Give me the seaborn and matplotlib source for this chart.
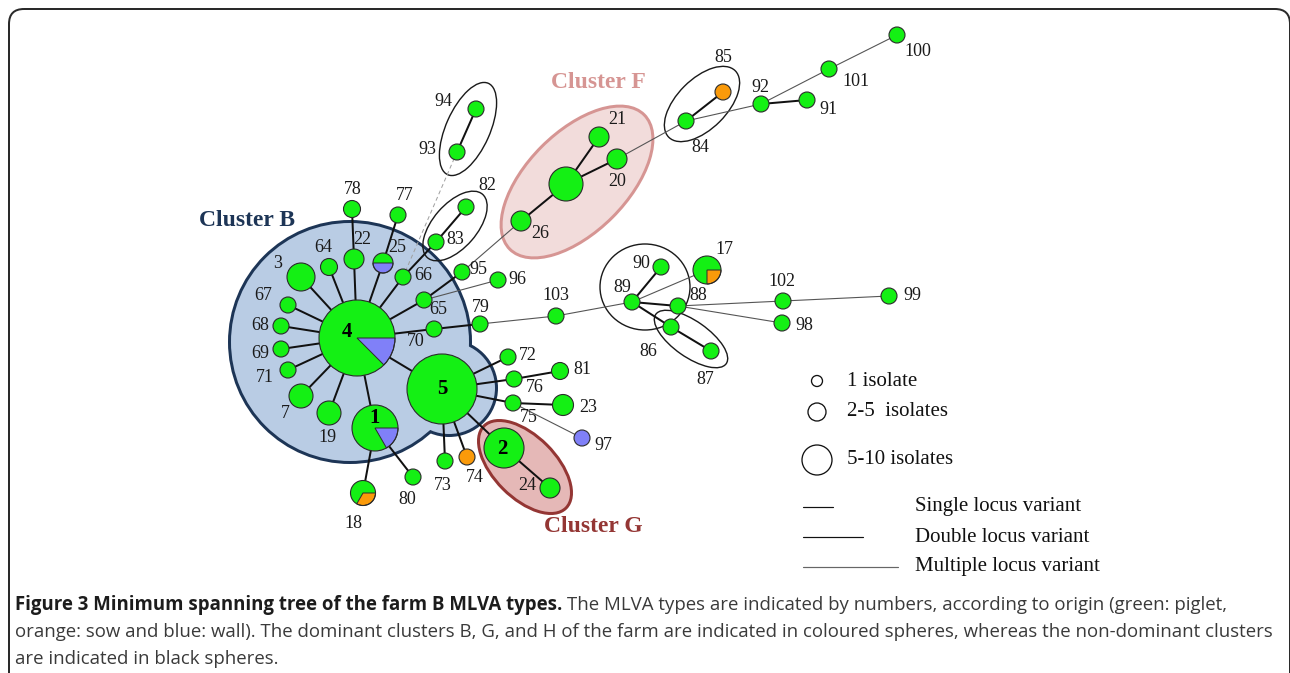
import numpy as np
import pandas as pd
import matplotlib
matplotlib.use("Agg")
import matplotlib.pyplot as plt
from matplotlib.patches import Circle, Wedge, Ellipse, FancyBboxPatch
import seaborn as sns

# ---------------------------------------------------------------------------
# MLVA types (nodes): layout position, node radius, origin shares, label spot
# ---------------------------------------------------------------------------
node_id = ["4", "5", "1", "2", "3", "64", "22", "25", "78", "77", "66", "83",
           "82", "95", "96", "65", "70", "79", "67", "68", "69", "71", "7",
           "19", "72", "76", "81", "75", "23", "97", "24", "73", "74", "80",
           "18", "hubF", "21", "20", "26", "93", "94", "84", "85", "92", "91",
           "101", "100", "17", "90", "89", "88", "86", "87", "102", "99",
           "98", "103"]
node_x = [357, 442, 375, 504, 301, 329, 354, 383, 352, 398, 403, 436,
          466, 462, 498, 424, 434, 480, 288, 281, 281, 288, 301,
          329, 508, 514, 560, 513, 563, 582, 550, 445, 467, 413,
          363, 566, 599, 617, 521, 457, 476, 686, 723, 761, 807,
          829, 897, 707, 661, 632, 678, 671, 711, 783, 889,
          782, 556]
node_y = [338, 389, 428, 448, 277, 267, 259, 263, 209, 215, 277, 242,
          207, 272, 280, 300, 329, 324, 305, 326, 349, 370, 396,
          413, 357, 379, 371, 403, 405, 438, 488, 461, 457, 477,
          493, 184, 137, 159, 221, 152, 109, 121, 92, 104, 100,
          69, 35, 270, 267, 302, 306, 327, 351, 301, 296,
          323, 316]
node_r = [38, 35, 23, 20, 14, 8.5, 10, 10, 8.5, 8, 8, 8,
          8, 8, 8, 8, 8, 8, 8, 8, 8, 8, 12,
          12, 8, 8, 8.5, 8, 10.5, 8, 10, 8, 8, 8,
          12.5, 17, 10, 10, 10, 8, 8, 8, 8, 8, 8,
          8, 8, 14, 8, 8, 8, 8, 8, 8, 8,
          8, 8]
# share of isolates from the wall (blue) and from sows (orange); rest piglets
share_wall = [0.125, 0, 1 / 6, 0, 0, 0, 0, 0.5, 0, 0, 0, 0,
              0, 0, 0, 0, 0, 0, 0, 0, 0, 0, 0,
              0, 0, 0, 0, 0, 0, 1, 0, 0, 0, 0,
              0, 0, 0, 0, 0, 0, 0, 0, 0, 0, 0,
              0, 0, 0, 0, 0, 0, 0, 0, 0, 0,
              0, 0]
share_sow = [0, 0, 0, 0, 0, 0, 0, 0, 0, 0, 0, 0,
             0, 0, 0, 0, 0, 0, 0, 0, 0, 0, 0,
             0, 0, 0, 0, 0, 0, 0, 0, 0, 1, 0,
             1 / 3, 0, 0, 0, 0, 0, 0, 0, 1, 0, 0,
             0, 0, 0.25, 0, 0, 0, 0, 0, 0, 0,
             0, 0]
label_x = [347, 442, 375, 502, 278, 323, 362, 397, 353, 405, 423, 455,
           487, 478, 517, 438, 416, 481, 263, 260, 260, 265, 285,
           327, 528, 535, 582, 529, 588, 603, 527, 443, 475, 407,
           353, None, 617, 617, 540, 427, 443, 700, 723, 760, 828,
           856, 918, 724, 641, 622, 698, 648, 705, 782, 912,
           804, 556]
label_y = [332, 389, 418, 449, 264, 248, 240, 247, 189, 196, 275, 240,
           186, 270, 279, 309, 342, 307, 296, 326, 353, 378, 413,
           437, 355, 387, 370, 418, 407, 445, 486, 485, 477, 500,
           523, None, 120, 181, 234, 150, 102, 148, 58, 87, 109,
           82, 51, 249, 263, 287, 295, 352, 380, 281, 296,
           326, 296]
bold_labels = ["4", "5", "1", "2"]

# Links of the spanning tree: single / double locus ("s"), multiple ("m"),
# uncertain link ("dash")
edge_a = ["4", "4", "4", "4", "4", "4", "4", "4", "4", "4", "4", "4", "4",
          "4", "4", "22", "25", "66", "83", "65", "70", "1", "1", "5", "5",
          "5", "5", "5", "5", "76", "75", "2", "93", "hubF", "hubF", "hubF",
          "84", "92", "89", "89", "89", "86",
          "65", "79", "103", "75", "95", "20", "84", "92", "101", "89",
          "88", "102", "88", "93"]
edge_b = ["3", "64", "22", "25", "66", "65", "70", "67", "68", "69", "71",
          "7", "19", "1", "5", "78", "77", "83", "82", "95", "79", "18", "80",
          "72", "76", "75", "73", "74", "2", "81", "23", "24", "94", "26",
          "21", "20", "85", "91", "90", "88", "86", "87",
          "96", "103", "89", "97", "26", "84", "92", "101", "100", "17",
          "102", "99", "98", "66"]
edge_kind = ["s"] * 42 + ["m"] * 13 + ["dash"]

# Legend entries
size_labels = ["1 isolate", "2-5  isolates", "5-10 isolates"]
size_radii = [5.5, 9, 15]
link_labels = ["Single locus variant", "Double locus variant",
               "Multiple locus variant"]

caption_bold = "Figure 3 Minimum spanning tree of the farm B MLVA types."
caption_rest = [
    "The MLVA types are indicated by numbers, according to origin (green: piglet,",
    "orange: sow and blue: wall). The dominant clusters B, G, and H of the farm "
    "are indicated in coloured spheres, whereas the non-dominant clusters",
    "are indicated in black spheres.",
]

GREEN = "#14f014"
BLUE = "#8080f8"
ORANGE = "#fa9a0a"
SERIF = "Liberation Serif"

sns.set_theme(style="white")
plt.rcParams["font.family"] = ["DejaVu Sans"]

W, H = 1290, 673
fig = plt.figure(figsize=(W / 100, H / 100), dpi=100)
ax = fig.add_axes([0, 0, 1, 1])
ax.set_xlim(0, W)
ax.set_ylim(H, 0)
ax.axis("off")

PT = 72 / 100  # points per pixel

# outer rounded frame
ax.add_patch(FancyBboxPatch((9, 9), 1281, 720,
                            boxstyle="round,pad=0,rounding_size=15",
                            fc="none", ec="#2a2a2a", lw=2.0 * PT, zorder=0))

# ---- cluster areas --------------------------------------------------------
# Cluster B: union of the big circle round type 4 and the lobe round type 5
b_parts = [((350, 342), 119), ((449, 388), 46)]
for c, r in b_parts:
    ax.add_patch(Circle(c, r, fc="none", ec="#1d3556", lw=6 * PT, zorder=1))
for c, r in b_parts:
    ax.add_patch(Circle(c, r, fc="#b9cce4", ec="none", zorder=1.1))

ax.add_patch(Ellipse((577, 182), 190, 100, angle=-45, fc="#f2dcdb",
                     ec="#d69593", lw=3 * PT, zorder=1))
ax.add_patch(Ellipse((525, 467), 116, 62, angle=45, fc="#e5b8b7",
                     ec="#943634", lw=3 * PT, zorder=1))

# non-dominant clusters (black outlines)
for (cx, cy), w, h, ang in [((468, 129), 100, 44, -66),
                            ((455, 226), 84, 44, -49),
                            ((702, 104), 94, 50, -45),
                            ((645, 287), 90, 86, 0),
                            ((691, 339), 86, 36, 35)]:
    ax.add_patch(Ellipse((cx, cy), w, h, angle=ang, fc="none",
                         ec="#1a1a1a", lw=1.4 * PT, zorder=1.5))

ax.text(247, 221, "Cluster B", family=SERIF, weight="bold", fontsize=17,
        color="#1d3556", ha="center", va="center", zorder=5)
ax.text(598, 83, "Cluster F", family=SERIF, weight="bold", fontsize=17,
        color="#d69593", ha="center", va="center", zorder=5)
ax.text(593, 527, "Cluster G", family=SERIF, weight="bold", fontsize=17,
        color="#943634", ha="center", va="center", zorder=5)

# ---- links ----------------------------------------------------------------
nodes = pd.DataFrame({"id": node_id, "x": node_x, "y": node_y, "r": node_r,
                      "wall": share_wall, "sow": share_sow,
                      "lx": label_x, "ly": label_y}).set_index("id")
link_style = {"s": dict(color="#111111", lw=2.0 * PT, ls="-"),
              "m": dict(color="#555555", lw=1.1 * PT, ls="-"),
              "dash": dict(color="#a0a0a0", lw=1.0 * PT, ls=(0, (4, 3)))}
for a, b, k in zip(edge_a, edge_b, edge_kind):
    ax.plot([nodes.at[a, "x"], nodes.at[b, "x"]],
            [nodes.at[a, "y"], nodes.at[b, "y"]], zorder=2, **link_style[k])

# ---- nodes ----------------------------------------------------------------
def origin(row):
    if row.wall >= 1:
        return "wall"
    if row.sow >= 1:
        return "sow"
    return "piglet"

is_pie = ((nodes.wall > 0) & (nodes.wall < 1)) | ((nodes.sow > 0) & (nodes.sow < 1))
solid = nodes[~is_pie].copy()
solid["origin"] = solid.apply(origin, axis=1)
solid["area"] = (2 * solid["r"] * PT) ** 2
amin, amax = solid["area"].min(), solid["area"].max()
sns.scatterplot(data=solid, x="x", y="y", hue="origin", size="area",
                sizes=(amin, amax), size_norm=(amin, amax),
                palette={"piglet": GREEN, "wall": BLUE, "sow": ORANGE},
                edgecolor="#2b2b2b", linewidth=0.8, legend=False, ax=ax,
                zorder=3)

for nid, row in nodes[is_pie].iterrows():
    minor = row.wall if row.wall > 0 else row.sow
    mcol = BLUE if row.wall > 0 else ORANGE
    sweep = minor * 360
    ax.add_patch(Wedge((row.x, row.y), row.r, sweep, 360, fc=GREEN,
                       ec="none", zorder=3))
    ax.add_patch(Wedge((row.x, row.y), row.r, 0, sweep, fc=mcol,
                       ec="#2b2b2b", lw=0.7, zorder=3.1))
    ax.add_patch(Circle((row.x, row.y), row.r, fc="none", ec="#2b2b2b",
                        lw=0.8, zorder=3.2))

for nid, row in nodes.iterrows():
    if row.lx is None or pd.isna(row.lx):
        continue
    if nid in bold_labels:
        ax.text(row.lx, row.ly, nid, family=SERIF, weight="bold", fontsize=15,
                ha="center", va="center", color="black", zorder=6)
    else:
        ax.text(row.lx, row.ly, nid, family=SERIF, fontsize=13,
                ha="center", va="center", color="#1a1a1a", zorder=6)

# ---- legend ---------------------------------------------------------------
for lab, r, y in zip(size_labels, size_radii, [381, 412, 460]):
    ax.add_patch(Circle((817, y), r, fc="white", ec="#111111", lw=1.3 * PT,
                        zorder=3))
    ax.text(847, y, lab, family=SERIF, fontsize=15, ha="left",
            va="center", color="#111111")
for lab, x1, y, col in zip(link_labels, [833, 863, 898], [507, 537, 567],
                           ["#111111", "#111111", "#666666"]):
    ax.plot([803, x1], [y, y], color=col, lw=1.2 * PT)
    ax.text(915, y, lab, family=SERIF, fontsize=15, ha="left",
            va="center", color="#111111")

# ---- caption --------------------------------------------------------------
CAP = "Open Sans"
CAP_SIZE = 13.4
t_bold = ax.text(15, 605, caption_bold, family=CAP, weight="bold",
                 fontsize=13.4, color="#1c1c1c", ha="left", va="center")
fig.canvas.draw()
bb = t_bold.get_window_extent()
x_end = ax.transData.inverted().transform((bb.x1, bb.y0))[0]
ax.text(x_end + 5, 605, caption_rest[0], family=CAP, fontsize=CAP_SIZE,
        color="#3a3a3a", ha="left", va="center")
ax.text(15, 632, caption_rest[1], family=CAP, fontsize=CAP_SIZE,
        color="#3a3a3a", ha="left", va="center")
ax.text(15, 659, caption_rest[2], family=CAP, fontsize=CAP_SIZE,
        color="#3a3a3a", ha="left", va="center")

fig.savefig("out.png", dpi=100)
